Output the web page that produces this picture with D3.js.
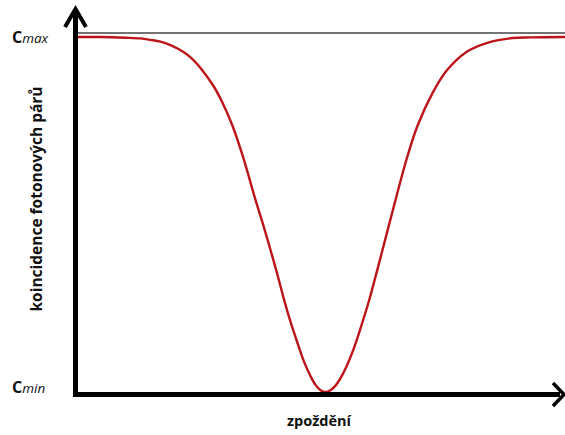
<!DOCTYPE html>
<html><head><meta charset="utf-8">
<script src="https://cdn.jsdelivr.net/npm/d3@7"></script>
<style>html,body{margin:0;padding:0;background:#fff;}svg{display:block;}</style>
</head><body>
<svg id="c" width="565" height="435"></svg>
<script>
// delay (arbitrary units) and normalized coincidence (0 = Cmin, 1 = Cmax)
const delay = [-250,-225,-200,-185,-175,-165,-155,-142,-133,-125,-112,-103,-93,-82,-70,-62,-55,-48,-42,-35,-28,-21,-15,-10,-5,0,5,10,14,21,28,36,44,57,70,81,92,107,121,141,161,187,205,240];
const coincidence = [1.0,1.0,0.998,0.996,0.992,0.987,0.977,0.958,0.938,0.913,0.862,0.815,0.750,0.658,0.541,0.468,0.400,0.330,0.266,0.198,0.138,0.082,0.045,0.020,0.005,0.0,0.005,0.018,0.034,0.072,0.120,0.188,0.262,0.400,0.541,0.655,0.750,0.842,0.905,0.958,0.983,0.997,0.999,1.0];
const levelLabels = [{main:"C", sub:"max", v:1}, {main:"C", sub:"min", v:0}];
const xTitle = "zpoždění";
const yTitle = "koincidence fotonových párů";

const svg = d3.select("#c");
const font = "'Open Sans', Lato, sans-serif";
const x = d3.scaleLinear().domain([-250, 240]).range([75.5, 565.5]);
const y = d3.scaleLinear().domain([0, 1]).range([392, 37]);

// reference line at Cmax
svg.append("line").attr("x1", 77).attr("x2", 565).attr("y1", 33).attr("y2", 33)
  .attr("stroke", "#444").attr("stroke-width", 1.3);

// curve
const pts = delay.map((d, i) => [d, coincidence[i]]);
svg.append("path").datum(pts)
  .attr("fill", "none").attr("stroke", "#bb1419").attr("stroke-width", 2.4)
  .attr("d", d3.line().x(d => x(d[0])).y(d => y(d[1])).curve(d3.curveCatmullRom.alpha(0.5)));

// axes
const ax = svg.append("g").attr("stroke", "#000").attr("fill", "none");
ax.append("line").attr("x1", 75.5).attr("x2", 75.5).attr("y1", 397).attr("y2", 10).attr("stroke-width", 5);
ax.append("line").attr("x1", 73).attr("x2", 560).attr("y1", 394.5).attr("y2", 394.5).attr("stroke-width", 5);
ax.append("path").attr("d", "M65,27 L75.5,9 L86,27").attr("stroke-width", 4).attr("stroke-linejoin", "miter");
ax.append("path").attr("d", "M553,383 L564,394.5 L553,406").attr("stroke-width", 3.5);

// level labels
levelLabels.forEach(l => {
  const t = svg.append("text").attr("x", 12).attr("y", y(l.v) + (l.v === 1 ? 6 : 1))
    .attr("font-family", font).attr("fill", "#111");
  t.append("tspan").attr("font-weight", "bold").attr("font-size", 16).text(l.main);
  t.append("tspan").attr("font-style", "italic").attr("font-size", 13.5).text(l.sub);
});

// titles
svg.append("text").attr("x", 319).attr("y", 426).attr("text-anchor", "middle")
  .attr("font-family", font).attr("font-weight", "bold").attr("font-size", 14.5).attr("fill", "#111").text(xTitle);
svg.append("text").attr("transform", "translate(42,199) rotate(-90)").attr("text-anchor", "middle")
  .attr("font-family", font).attr("font-weight", "bold").attr("font-size", 15.5).attr("fill", "#111").text(yTitle);
</script>
</body></html>
